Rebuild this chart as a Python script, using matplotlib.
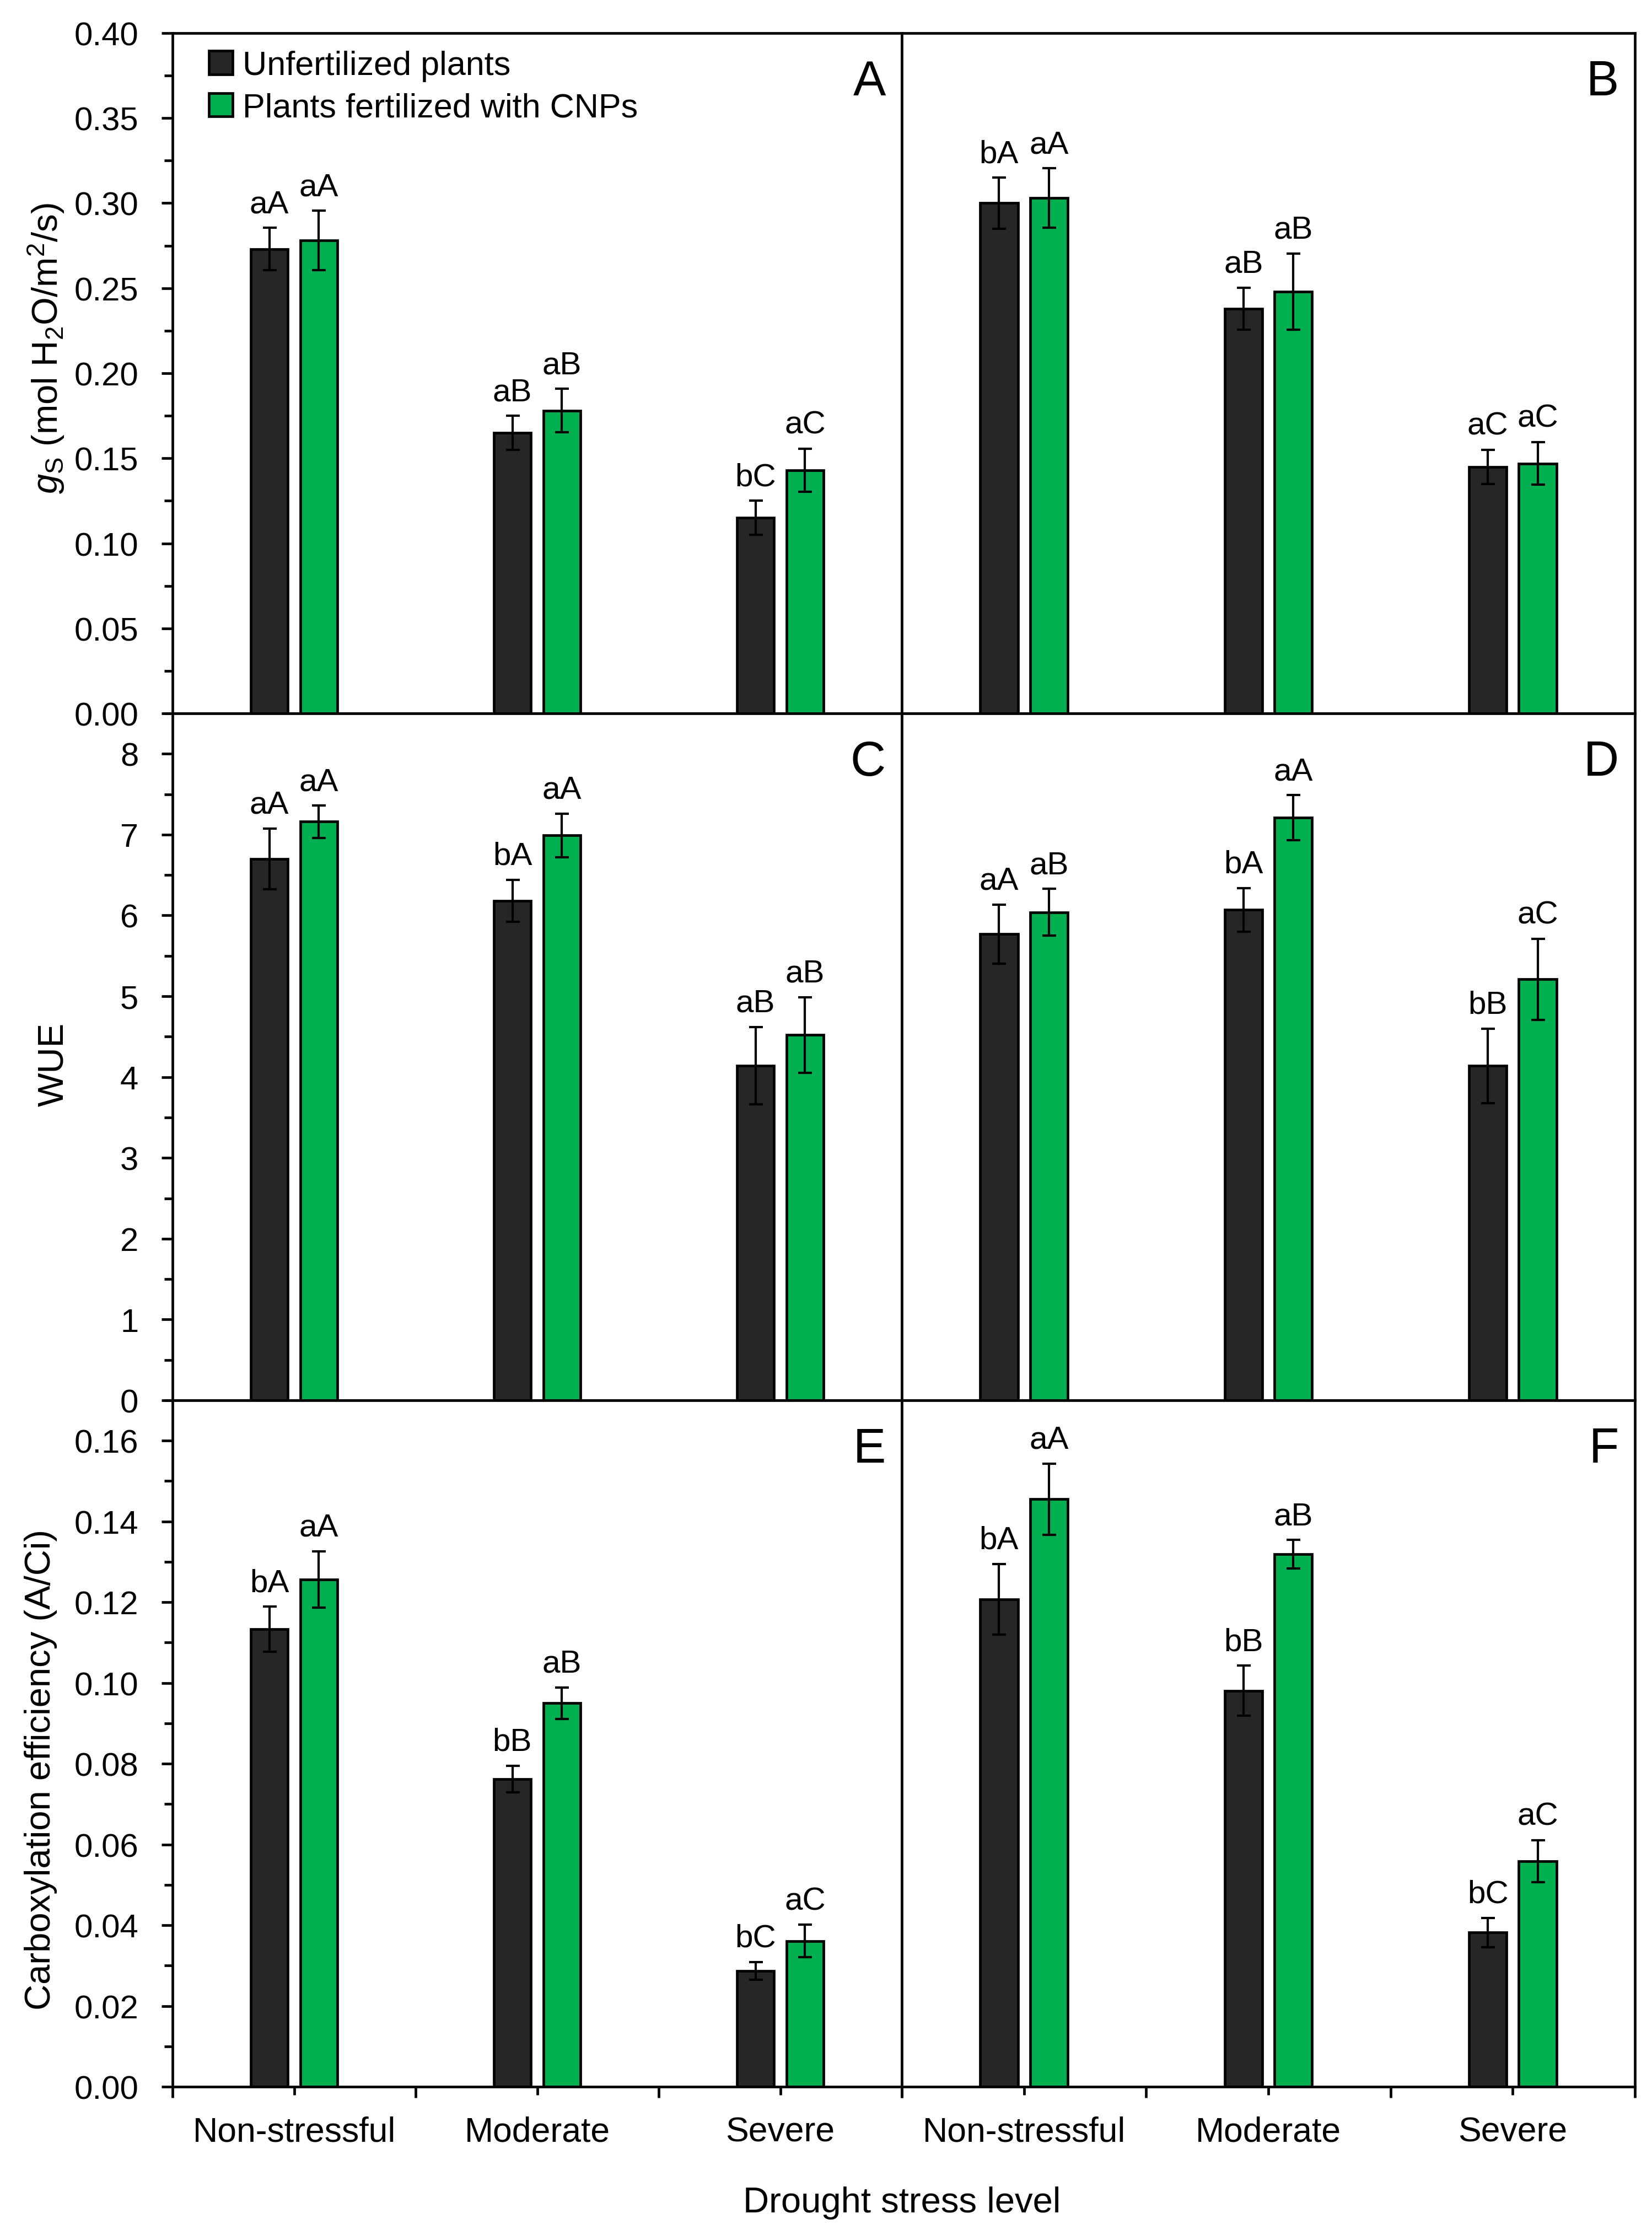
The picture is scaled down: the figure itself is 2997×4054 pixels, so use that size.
import numpy as np
import matplotlib
matplotlib.use("Agg")
import matplotlib.pyplot as plt
from matplotlib.ticker import MultipleLocator, FixedLocator, FormatStrFormatter, NullFormatter, FixedFormatter

plt.rcParams['font.family'] = ['Liberation Sans', 'DejaVu Sans']
plt.rcParams['mathtext.fontset'] = 'custom'
plt.rcParams['mathtext.rm'] = 'Liberation Sans'
plt.rcParams['mathtext.it'] = 'Liberation Sans:italic'

levels = ["Non-stressful", "Moderate", "Severe"]
series = ["Unfertilized plants", "Plants fertilized with CNPs"]

# stomatal conductance (A, B)
gs_A_unf = [0.273, 0.165, 0.115]
gs_A_unf_err = [0.0125, 0.010, 0.010]
gs_A_cnp = [0.278, 0.178, 0.143]
gs_A_cnp_err = [0.0175, 0.0128, 0.0126]
gs_A_lab_unf = ["aA", "aB", "bC"]
gs_A_lab_cnp = ["aA", "aB", "aC"]

gs_B_unf = [0.300, 0.238, 0.145]
gs_B_unf_err = [0.015, 0.0124, 0.010]
gs_B_cnp = [0.303, 0.248, 0.147]
gs_B_cnp_err = [0.0175, 0.0224, 0.0126]
gs_B_lab_unf = ["bA", "aB", "aC"]
gs_B_lab_cnp = ["aA", "aB", "aC"]

# water use efficiency (C, D)
wue_C_unf = [6.70, 6.18, 4.14]
wue_C_unf_err = [0.375, 0.26, 0.48]
wue_C_cnp = [7.16, 6.99, 4.52]
wue_C_cnp_err = [0.20, 0.27, 0.47]
wue_C_lab_unf = ["aA", "bA", "aB"]
wue_C_lab_cnp = ["aA", "aA", "aB"]

wue_D_unf = [5.77, 6.07, 4.14]
wue_D_unf_err = [0.365, 0.27, 0.46]
wue_D_cnp = [6.04, 7.21, 5.21]
wue_D_cnp_err = [0.29, 0.28, 0.50]
wue_D_lab_unf = ["aA", "bA", "bB"]
wue_D_lab_cnp = ["aB", "aA", "aC"]

# carboxylation efficiency (E, F)
ce_E_unf = [0.1133, 0.0762, 0.0287]
ce_E_unf_err = [0.0056, 0.0033, 0.0022]
ce_E_cnp = [0.1256, 0.0950, 0.0361]
ce_E_cnp_err = [0.0070, 0.0039, 0.0040]
ce_E_lab_unf = ["bA", "bB", "bC"]
ce_E_lab_cnp = ["aA", "aB", "aC"]

ce_F_unf = [0.1207, 0.0981, 0.0382]
ce_F_unf_err = [0.0088, 0.0062, 0.0036]
ce_F_cnp = [0.1455, 0.1319, 0.0559]
ce_F_cnp_err = [0.0088, 0.0035, 0.0052]
ce_F_lab_unf = ["bA", "bB", "bC"]
ce_F_lab_cnp = ["aA", "aB", "aC"]

DARK = "#262626"
GREEN = "#00B050"

fig = plt.figure(figsize=(29.97, 40.55), dpi=100)

lefts = [0.10444, 0.54588]
widths = [0.44144, 0.44378]
rows = [(0.68064, 0.30432), (0.37337, 0.30727), (0.06634, 0.30703)]

panels = [
    ("A", gs_A_unf, gs_A_unf_err, gs_A_cnp, gs_A_cnp_err, gs_A_lab_unf, gs_A_lab_cnp),
    ("B", gs_B_unf, gs_B_unf_err, gs_B_cnp, gs_B_cnp_err, gs_B_lab_unf, gs_B_lab_cnp),
    ("C", wue_C_unf, wue_C_unf_err, wue_C_cnp, wue_C_cnp_err, wue_C_lab_unf, wue_C_lab_cnp),
    ("D", wue_D_unf, wue_D_unf_err, wue_D_cnp, wue_D_cnp_err, wue_D_lab_unf, wue_D_lab_cnp),
    ("E", ce_E_unf, ce_E_unf_err, ce_E_cnp, ce_E_cnp_err, ce_E_lab_unf, ce_E_lab_cnp),
    ("F", ce_F_unf, ce_F_unf_err, ce_F_cnp, ce_F_cnp_err, ce_F_lab_unf, ce_F_lab_cnp),
]

row_fmt = [
    dict(ylim=0.40, major=0.05, minor=0.025, fmt="%.2f",
         label=r"$\mathit{g}_\mathrm{S}$ (mol H$_2$O/m$^2$/s)", lx=-0.1731, ly=0.5373),
    dict(ylim=8.5, major=1, minor=0.5, fmt="%d", label="WUE", lx=-0.1633, ly=0.4896),
    dict(ylim=0.17, major=0.02, minor=0.01, fmt="%.2f",
         label="Carboxylation efficiency (A/Ci)", lx=-0.1807, ly=0.4627),
]

x = np.arange(len(levels))
bw = 0.154
off = 0.102
LW = 3.4

for i, (letter, unf, unf_e, cnp, cnp_e, lab_u, lab_c) in enumerate(panels):
    r, c = divmod(i, 2)
    ax = fig.add_axes([lefts[c], rows[r][0], widths[c], rows[r][1]])
    f = row_fmt[r]
    err_kw = dict(ecolor="black", elinewidth=3.0, capsize=9, capthick=3.0)
    b1 = ax.bar(x - off, unf, bw, yerr=unf_e, color=DARK, edgecolor="black",
                linewidth=LW, error_kw=err_kw, label=series[0], zorder=2)
    b2 = ax.bar(x + off, cnp, bw, yerr=cnp_e, color=GREEN, edgecolor="black",
                linewidth=LW, error_kw=err_kw, label=series[1], zorder=2)
    for xs, vals, errs, labs in [(x - off, unf, unf_e, lab_u), (x + off, cnp, cnp_e, lab_c)]:
        for xi, v, e, t in zip(xs, vals, errs, labs):
            ax.annotate(t, (xi, v + e), xytext=(0, 28), textcoords="offset pixels",
                        ha="center", va="baseline", fontsize=42)

    ax.set_xlim(-0.5, 2.5)
    ax.set_ylim(0, f["ylim"])
    for s in ax.spines.values():
        s.set_linewidth(LW)
        s.set_zorder(3)

    if c == 0:
        ax.yaxis.set_major_locator(MultipleLocator(f["major"]))
        ax.yaxis.set_minor_locator(MultipleLocator(f["minor"]))
        ax.yaxis.set_major_formatter(FormatStrFormatter(f["fmt"]))
        ax.tick_params(axis="y", which="major", direction="out", length=14.4, width=3.4,
                       pad=30, labelsize=43)
        ax.tick_params(axis="y", which="minor", direction="out", length=10.8, width=3.4)
        ax.text(f["lx"], f["ly"], f["label"], rotation=90, ha="center", va="center",
                fontsize=47, transform=ax.transAxes)
    else:
        ax.set_yticks([])
        ax.yaxis.set_minor_locator(FixedLocator([]))

    if r == 2:
        ax.xaxis.set_major_locator(FixedLocator([-0.5, 0.5, 1.5, 2.5]))
        ax.xaxis.set_major_formatter(NullFormatter())
        ax.xaxis.set_minor_locator(FixedLocator(x))
        ax.xaxis.set_minor_formatter(FixedFormatter(levels))
        ax.tick_params(axis="x", which="major", direction="out", length=14.4, width=3.4)
        ax.tick_params(axis="x", which="minor", direction="out", length=10.8, width=3.4,
                       pad=27, labelsize=45)
    else:
        ax.set_xticks([])

    ax.annotate(letter, (1, 1), xycoords="axes fraction", xytext=(-29, -112),
                textcoords="offset pixels", ha="right", va="baseline", fontsize=64)

    if i == 0:
        ax.legend(handles=[b1, b2], loc="upper left", bbox_to_anchor=(0.05, 0.975),
                  frameon=False, fontsize=44, handlelength=0.7, handleheight=0.7,
                  handletextpad=0.3, labelspacing=0.32, borderpad=0, borderaxespad=0)

fig.text(0.5459, 0.01036, "Drought stress level", ha="center", va="baseline", fontsize=47)

fig.savefig("out.png", dpi=100)
